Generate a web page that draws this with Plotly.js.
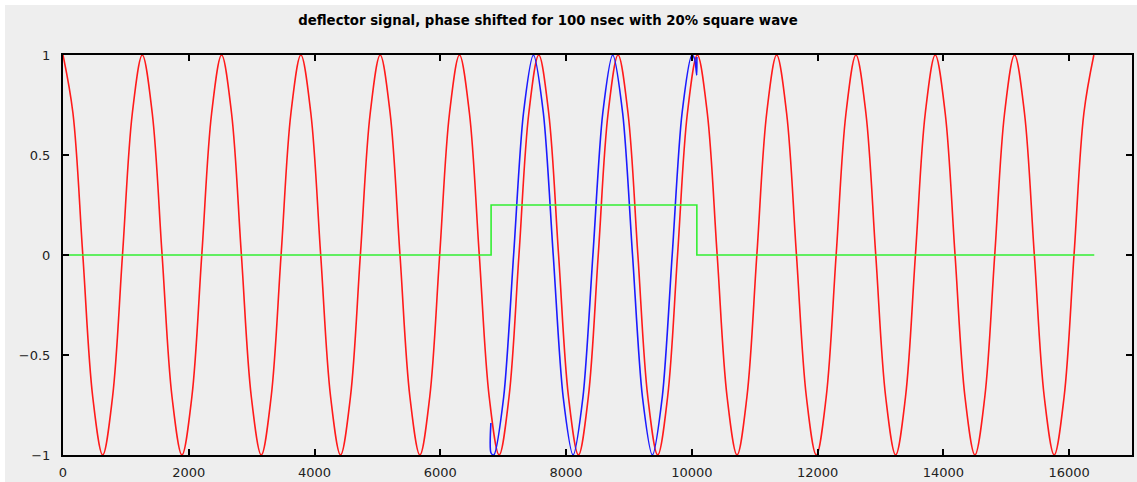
<!DOCTYPE html>
<html>
<head>
<meta charset="utf-8">
<script src="https://cdn.plot.ly/plotly-3.0.1.min.js"></script>
<style>
  html, body { margin: 0; padding: 0; background: #ffffff; width: 1137px; height: 482px; overflow: hidden; }
  #chart { position: absolute; left: 5px; top: 5px; width: 1132px; height: 477px; }
</style>
</head>
<body>
<div id="chart"></div>
<script>
// ---- data ----
const chartTitle = "deflector signal, phase shifted for 100 nsec with 20% square wave";

// red: unshifted deflector signal (peaks, eighth-period points, troughs)
const redX = [
  0, 158, 315, 473, 631, 788, 946, 1103,
  1261, 1419, 1576, 1734, 1892, 2049, 2207, 2364,
  2522, 2680, 2837, 2995, 3153, 3310, 3468, 3625,
  3783, 3941, 4098, 4256, 4414, 4571, 4729, 4886,
  5044, 5202, 5359, 5517, 5675, 5832, 5990, 6147,
  6305, 6463, 6620, 6778, 6936, 7093, 7251, 7408,
  7566, 7724, 7881, 8039, 8197, 8354, 8512, 8669,
  8827, 8985, 9142, 9300, 9458, 9615, 9773, 9930,
  10088, 10246, 10403, 10561, 10719, 10876, 11034, 11191,
  11349, 11507, 11664, 11822, 11980, 12137, 12295, 12452,
  12610, 12768, 12925, 13083, 13241, 13398, 13556, 13713,
  13871, 14029, 14186, 14344, 14502, 14659, 14817, 14974,
  15132, 15290, 15447, 15605, 15763, 15920, 16078, 16235,
  16393
];
const redY = [
  1, 0.71, 0, -0.71, -1, -0.71, 0, 0.71,
  1, 0.71, 0, -0.71, -1, -0.71, 0, 0.71,
  1, 0.71, 0, -0.71, -1, -0.71, 0, 0.71,
  1, 0.71, 0, -0.71, -1, -0.71, 0, 0.71,
  1, 0.71, 0, -0.71, -1, -0.71, 0, 0.71,
  1, 0.71, 0, -0.71, -1, -0.71, 0, 0.71,
  1, 0.71, 0, -0.71, -1, -0.71, 0, 0.71,
  1, 0.71, 0, -0.71, -1, -0.71, 0, 0.71,
  1, 0.71, 0, -0.71, -1, -0.71, 0, 0.71,
  1, 0.71, 0, -0.71, -1, -0.71, 0, 0.71,
  1, 0.71, 0, -0.71, -1, -0.71, 0, 0.71,
  1, 0.71, 0, -0.71, -1, -0.71, 0, 0.71,
  1, 0.71, 0, -0.71, -1, -0.71, 0, 0.71,
  1
];

// blue: phase-shifted signal during the square-wave window
const blueX = [
  6805, 6807, 6851, 7008, 7166, 7323, 7481, 7639,
  7796, 7954, 8112, 8269, 8427, 8584, 8742, 8900,
  9057, 9215, 9373, 9530, 9688, 9845, 10003, 10045,
  10078, 10080
];
const blueY = [
  -0.84, -0.99, -1, -0.71, 0, 0.71, 1, 0.71,
  0, -0.71, -1, -0.71, 0, 0.71, 1, 0.71,
  0, -0.71, -1, -0.71, 0, 0.71, 1, 0.98,
  0.9, 0.99
];

// green: 20% square wave
const greenX = [0, 6808, 6808, 10080, 10080, 16400];
const greenY = [0, 0, 0.25, 0.25, 0, 0];

// axis ticks
const xTickVals = [0, 2000, 4000, 6000, 8000, 10000, 12000, 14000, 16000];
const xTickText = ["0", "2000", "4000", "6000", "8000", "10000", "12000", "14000", "16000"];
const yTickVals = [-1, -0.5, 0, 0.5, 1];
const yTickText = ["\u22121", "\u22120.5", "0", "0.5", "1"];

// ---- chart ----
const traces = [
  { x: redX, y: redY, type: "scatter", mode: "lines",
    line: { color: "#ff1a1a", width: 1.6, shape: "spline", smoothing: 1 }, hoverinfo: "skip" },
  { x: blueX, y: blueY, type: "scatter", mode: "lines",
    line: { color: "#1a1aff", width: 1.6, shape: "spline", smoothing: 0.8 }, hoverinfo: "skip" },
  { x: greenX, y: greenY, type: "scatter", mode: "lines",
    line: { color: "#33ee33", width: 1.6 }, hoverinfo: "skip" }
];

const axisCommon = {
  showgrid: false, zeroline: false,
  showline: true, linecolor: "#000000", linewidth: 2, mirror: "ticks",
  ticks: "inside", tickcolor: "#000000", tickwidth: 2, ticklen: 6,
  tickfont: { family: "DejaVu Sans", size: 13, color: "#222222" }
};

const layout = {
  width: 1132, height: 477,
  paper_bgcolor: "#eeeeee", plot_bgcolor: "#eeeeee",
  margin: { l: 58, r: 5, t: 50, b: 27 },
  showlegend: false,
  title: { text: chartTitle, x: 0.4797, xanchor: "center", xref: "container",
           y: 0.968, yanchor: "middle", yref: "container",
           font: { family: "DejaVu Sans", size: 13.3, color: "#000000", weight: "bold" } },
  xaxis: Object.assign({}, axisCommon, {
    range: [0, 17000], tickmode: "array", tickvals: xTickVals, ticktext: xTickText,
    ticklabelstandoff: 4
  }),
  yaxis: Object.assign({}, axisCommon, {
    range: [-1, 1], tickmode: "array", tickvals: yTickVals, ticktext: yTickText,
    ticklabelstandoff: 8
  })
};

Plotly.newPlot("chart", traces, layout, { displayModeBar: false, staticPlot: true });
</script>
</body>
</html>
